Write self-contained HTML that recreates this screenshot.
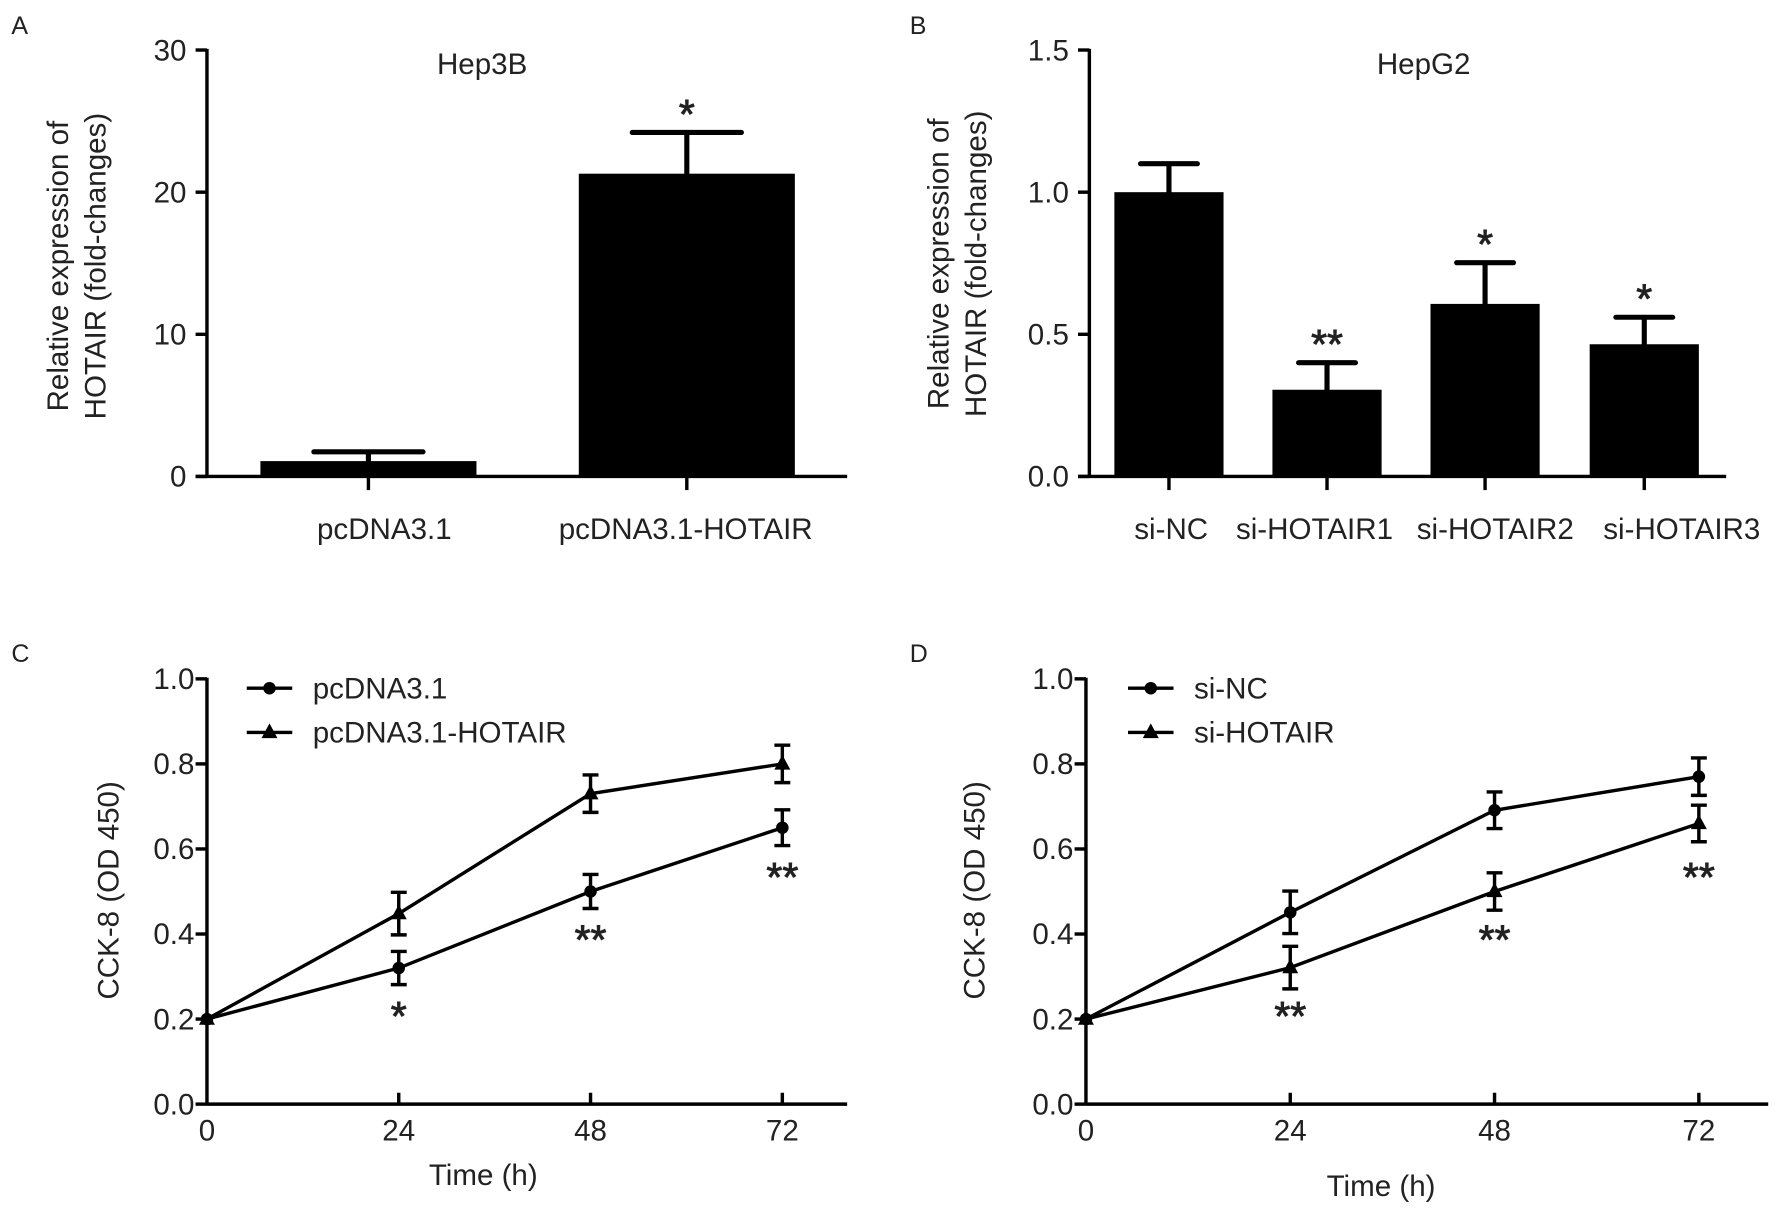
<!DOCTYPE html>
<html><head><meta charset="utf-8"><style>
html,body{margin:0;padding:0;background:#fff;}
svg{display:block;}
text{font-family:"Liberation Sans",Arial,sans-serif;fill:#222;}
</style></head><body>
<svg id="fig" width="1783" height="1215" viewBox="0 0 1568 1068.5" preserveAspectRatio="none" xmlns="http://www.w3.org/2000/svg"></svg>
<script>
// Panel A data
const aCats = ["pcDNA3.1", "pcDNA3.1-HOTAIR"];
const aVals = [1.08, 21.3];
const aErrs = [0.65, 2.9];
const aSig = ["", "*"];
const aTicks = [0, 10, 20, 30];
// Panel B data
const bCats = ["si-NC", "si-HOTAIR1", "si-HOTAIR2", "si-HOTAIR3"];
const bVals = [1.0, 0.305, 0.607, 0.465];
const bErrs = [0.10, 0.095, 0.145, 0.095];
const bSig = ["", "**", "*", "*"];
const bTicks = [0.0, 0.5, 1.0, 1.5];
// Panel C data
const timePts = [0, 24, 48, 72];
const cCircle = [0.2, 0.32, 0.50, 0.65];
const cCircleErr = [0.0, 0.039, 0.04, 0.042];
const cTri = [0.2, 0.448, 0.73, 0.80];
const cTriErr = [0.0, 0.05, 0.044, 0.044];
const cSig = ["", "*", "**", "**"];
// Panel D data
const dCircle = [0.2, 0.451, 0.691, 0.77];
const dCircleErr = [0.0, 0.05, 0.043, 0.044];
const dTri = [0.2, 0.321, 0.50, 0.66];
const dTriErr = [0.0, 0.05, 0.044, 0.043];
const dSig = ["", "**", "**", "**"];
const lineTicks = [0.0, 0.2, 0.4, 0.6, 0.8, 1.0];

const NS = "http://www.w3.org/2000/svg";
const svg = document.getElementById("fig");
const FS = 26;
function el(tag, attrs, parent, txt) {
  const e = document.createElementNS(NS, tag);
  for (const k in attrs) e.setAttribute(k, attrs[k]);
  if (txt !== undefined) e.textContent = txt;
  (parent || svg).appendChild(e);
  return e;
}
function grp(name) {
  const g = el("g", {}, svg);
  
  
  return g;
}
const SW = 3;

function barPanel(p) {
  const g = grp(p.name);
  const y = v => p.y0 - (v / p.max) * (p.y0 - p.y1);
  const letter = el("text", {x: p.letterX, y: 30, "font-size": 22}, g, p.letter);
  
  
  const title = el("text", {x: p.titleX, y: 65, "font-size": FS, "text-anchor": "middle"}, g, p.title);
  
  
  const ya = el("line", {x1: p.ax, y1: p.y1 - 1, x2: p.ax, y2: p.y0, stroke: "#000", "stroke-width": SW}, g);
  
  
  p.ticks.forEach(t => {
    el("line", {x1: p.ax - 10, y1: y(t), x2: p.ax, y2: y(t), stroke: "#000", "stroke-width": SW}, g);
    const tl = el("text", {x: p.ax - 18, y: y(t) + 9, "font-size": FS, "text-anchor": "end"}, g, p.fmt(t));
    
    
  });
  const yt = el("text", {transform: `translate(${p.ylx},${p.yly}) rotate(-90)`, "font-size": FS, "text-anchor": "middle"}, g);
  
  
  el("tspan", {x: 0, dy: 0}, yt, "Relative expression of");
  el("tspan", {x: 0, dy: 33}, yt, "HOTAIR (fold-changes)");
  p.cats.forEach((c, i) => {
    const cx = p.centers[i];
    const top = y(p.vals[i]);
    const b = el("rect", {x: cx - p.bw / 2, y: top, width: p.bw, height: p.y0 - top, fill: "#000"}, g);
    
    
    const ey = y(p.vals[i] + p.errs[i]);
    const eb = el("path", {d: `M${cx},${top} V${ey} M${cx - p.cap},${ey} H${cx + p.cap}`, stroke: "#000", "stroke-width": 4.5, fill: "none", "stroke-linecap": "round"}, g);
    
    
    el("line", {x1: cx, y1: p.y0, x2: cx, y2: p.y0 + 12, stroke: "#000", "stroke-width": SW}, g);
    const xl = el("text", {x: p.labelX[i], y: p.y0 + 55, "font-size": FS, "text-anchor": "middle"}, g, c);
    
    
    if (p.sig[i]) {
      const s = el("text", {x: cx, y: ey - 4, "font-size": 36, "text-anchor": "middle", stroke: "#222", "stroke-width": 0.8}, g, p.sig[i]);
      
      
    }
  });
  const xa = el("line", {x1: p.ax - 10, y1: p.y0, x2: p.xEnd, y2: p.y0, stroke: "#000", "stroke-width": SW}, g);
  
  
}

barPanel({name: "panel-a-hep3b", letter: "A", letterX: 10, title: "Hep3B", titleX: 424, ax: 182, y0: 419, y1: 44, max: 30,
  ticks: aTicks, fmt: t => String(t), ylx: 60, yly: 234, cats: aCats, vals: aVals, errs: aErrs, sig: aSig,
  centers: [324, 604], labelX: [338, 603], bw: 190, cap: 48, xEnd: 745});
barPanel({name: "panel-b-hepg2", letter: "B", letterX: 800, title: "HepG2", titleX: 1252, ax: 958, y0: 419, y1: 44, max: 1.5,
  ticks: bTicks, fmt: t => t.toFixed(1), ylx: 834, yly: 232, cats: bCats, vals: bVals, errs: bErrs, sig: bSig,
  centers: [1028, 1167, 1306, 1446], labelX: [1030, 1156, 1315, 1479], bw: 96, cap: 25, xEnd: 1518});

function linePanel(p) {
  const g = grp(p.name);
  const x = t => p.ax + (t / 72) * (p.x72 - p.ax);
  const y = v => p.y0 - v * (p.y0 - p.y1);
  const letter = el("text", {x: p.letterX, y: 582, "font-size": 22}, g, p.letter);
  
  
  const ya = el("line", {x1: p.ax, y1: p.y1 - 1, x2: p.ax, y2: p.y0, stroke: "#000", "stroke-width": SW}, g);
  
  
  lineTicks.forEach(t => {
    el("line", {x1: p.ax - 10, y1: y(t), x2: p.ax, y2: y(t), stroke: "#000", "stroke-width": SW}, g);
    const tl = el("text", {x: p.ax - 11, y: y(t) + 9, "font-size": FS, "text-anchor": "end"}, g, t.toFixed(1));
    
    
  });
  const xa = el("line", {x1: p.ax, y1: p.y0, x2: p.xEnd, y2: p.y0, stroke: "#000", "stroke-width": SW}, g);
  
  
  timePts.forEach(t => {
    if (t > 0) el("line", {x1: x(t), y1: p.y0 - 10, x2: x(t), y2: p.y0, stroke: "#000", "stroke-width": SW}, g);
    const tl = el("text", {x: x(t), y: p.y0 + 32, "font-size": FS, "text-anchor": "middle"}, g, String(t));
    
    
  });
  const xt = el("text", {x: (p.ax + p.x72) / 2 - 10, y: p.xtY, "font-size": FS, "text-anchor": "middle"}, g, "Time (h)");
  
  
  const yt = el("text", {transform: `translate(${p.ylx},783) rotate(-90)`, "font-size": FS, "text-anchor": "middle"}, g, "CCK-8 (OD 450)");
  
  
  function series(vals, errs, shape, nm) {
    const sg = el("g", {}, g);
    
    
    el("polyline", {points: timePts.map((t, i) => x(t) + "," + y(vals[i])).join(" "), fill: "none", stroke: "#000", "stroke-width": SW}, sg);
    timePts.forEach((t, i) => {
      const cx = x(t), cy = y(vals[i]);
      if (errs[i] > 0) {
        const a = y(vals[i] + errs[i]), b = y(vals[i] - errs[i]);
        el("path", {d: `M${cx},${a} V${b} M${cx - 7},${a} H${cx + 7} M${cx - 7},${b} H${cx + 7}`, stroke: "#000", "stroke-width": 3, fill: "none"}, sg);
      }
      marker(sg, cx, cy, shape);
    });
  }
  function marker(parent, cx, cy, shape) {
    if (shape === "circle") el("circle", {cx, cy, r: 5.5, fill: "#000"}, parent);
    else el("path", {d: `M${cx},${cy - 8} L${cx + 7},${cy + 5} L${cx - 7},${cy + 5} Z`, fill: "#000"}, parent);
  }
  series(p.circle, p.circleErr, "circle", "series-" + p.n1);
  series(p.tri, p.triErr, "triangle", "series-" + p.n2);
  p.sig.forEach((s, i) => {
    if (!s) return;
    const st = el("text", {x: x(timePts[i]), y: y(p.sigPos[i]) + 17, "font-size": 36, "text-anchor": "middle", stroke: "#222", "stroke-width": 0.8}, g, s);
    
    
  });
  [[p.n1, "circle", 0.978], [p.n2, "triangle", 0.874]].forEach(([lab, sh, v]) => {
    const lg = el("g", {}, g);
    
    
    const ly = y(v);
    el("line", {x1: p.legX, y1: ly, x2: p.legX + 40, y2: ly, stroke: "#000", "stroke-width": SW}, lg);
    marker(lg, p.legX + 20, ly, sh);
    el("text", {x: p.legX + 58, y: ly + 9, "font-size": FS}, lg, lab);
  });
}

linePanel({name: "panel-c-cck8", letter: "C", letterX: 10, ax: 182, x72: 688, xEnd: 745, y0: 971, y1: 597, xtY: 1042, ylx: 104,
  circle: cCircle, circleErr: cCircleErr, tri: cTri, triErr: cTriErr, sig: cSig, sigPos: [0, 0.22, 0.40, 0.546],
  n1: "pcDNA3.1", n2: "pcDNA3.1-HOTAIR", legX: 217});
linePanel({name: "panel-d-cck8", letter: "D", letterX: 800, ax: 955, x72: 1494, xEnd: 1555, y0: 971, y1: 597, xtY: 1052, ylx: 866,
  circle: dCircle, circleErr: dCircleErr, tri: dTri, triErr: dTriErr, sig: dSig, sigPos: [0, 0.22, 0.40, 0.547],
  n1: "si-NC", n2: "si-HOTAIR", legX: 992});
</script>
</body></html>
